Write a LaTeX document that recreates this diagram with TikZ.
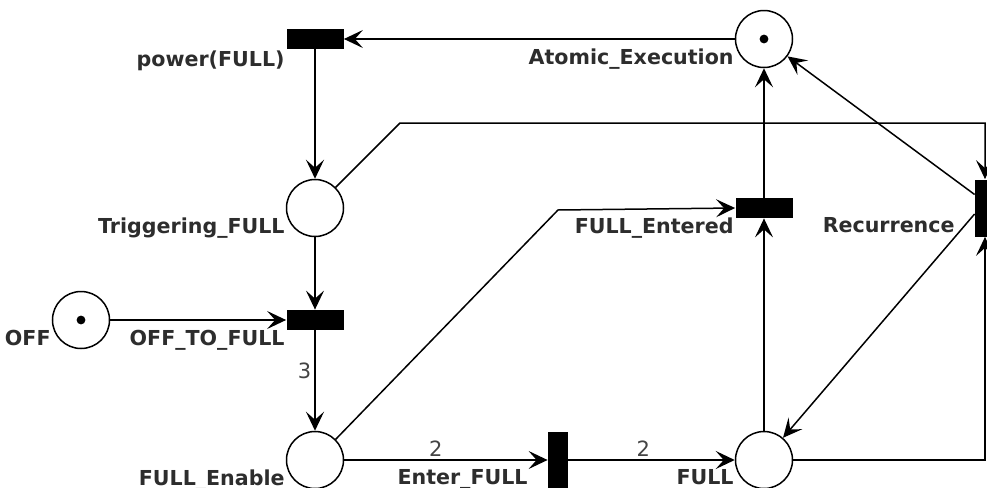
\documentclass[tikz,border=0pt]{standalone}
\usepackage{fontspec}
\setmainfont{DejaVu Sans}
\usetikzlibrary{arrows.meta, positioning, calc}
\definecolor{pnlabel}{RGB}{45, 45, 45}
\definecolor{pnweight}{RGB}{68, 68, 68}

\begin{document}
\begin{tikzpicture}[
    node distance=50pt, on grid,
    place/.style={draw, circle, minimum size=28.5pt, inner sep=0pt, line width=0.75pt},
    marked/.style={place, path picture={\fill (path picture bounding box.center) circle (2.2pt);}},
    htrans/.style={fill=black, minimum width=28.5pt, minimum height=10pt, inner sep=0pt},
    vtrans/.style={fill=black, minimum width=10pt, minimum height=28.5pt, inner sep=0pt},
    flow/.style={line width=0.75pt, -{Stealth[length=9.5pt, width=9pt, inset=4pt]}},
    lbl/.style={anchor=north east, inner sep=0pt, font=\fontsize{10.3}{12}\selectfont\bfseries, text=pnlabel},
    wlabel/.style={font=\fontsize{10.5}{12}\selectfont, text=pnweight, inner sep=1.5pt},
]

% Canvas
\path[use as bounding box, fill=white] (0,0) rectangle (493.5pt,-244pt);
\clip (0,0) rectangle (493.5pt,-244pt);

% Places and transitions
\node[marked] (atomic) at (382pt,-19.5pt) {};
\node[htrans, left=224.5pt of atomic] (power) {};
\node[place, below=84.5pt of power] (trig) {};
\node[htrans, below=56pt of trig] (offfull) {};
\node[marked, left=117pt of offfull] (off) {};
\node[place, below=70pt of offfull] (enable) {};
\node[vtrans, right=121.5pt of enable] (enter) {};
\node[place, right=103pt of enter] (full) {};
\node[htrans, above=126pt of full] (entered) {};
\node[vtrans, right=110.5pt of entered] (rec) {};

% Labels
\node[lbl] (atomic-l) at ($(atomic)+(-15pt,-4.5pt)$) {Atomic\_Execution};
\node[lbl] (power-l) at ($(power)+(-15pt,-5.5pt)$) {power(FULL)};
\node[lbl] (trig-l) at ($(trig)+(-15pt,-4.5pt)$) {Triggering\_FULL};
\node[lbl] (off-l) at ($(off)+(-15pt,-5pt)$) {OFF};
\node[lbl] (offfull-l) at ($(offfull)+(-15pt,-5pt)$) {OFF\_TO\_FULL};
\node[lbl] (enable-l) at ($(enable)+(-15pt,-4.5pt)$) {FULL\_Enable};
\node[lbl] (enter-l) at ($(enter)+(-15pt,-4.5pt)$) {Enter\_FULL};
\node[lbl] (full-l) at ($(full)+(-15pt,-4.5pt)$) {FULL};
\node[lbl] (entered-l) at ($(entered)+(-15pt,-4.5pt)$) {FULL\_Entered};
\node[lbl] (rec-l) at ($(rec)+(-15pt,-4.5pt)$) {Recurrence};

% Bends
\coordinate (trigbend) at (200pt,-61.5pt);
\coordinate (enablebend) at ($(enter |- entered)+(0,-1pt)$);

% Arcs
\draw[flow] (atomic) -- (power);
\draw[flow] (power) -- (trig);
\draw[flow] (trig) -- (offfull);
\draw[flow] (off) -- (offfull);
\draw[flow] (offfull) -- node[wlabel, left, pos=0.4] {3} (enable);
\draw[flow] (enable) -- node[wlabel, above, pos=0.45] {2} (enter);
\draw[flow] (enter) -- node[wlabel, above, pos=0.45] {2} (full);
\draw[flow] (full) -- (entered);
\draw[flow] (entered) -- (atomic);
\draw[flow] (trig.45) -- (trigbend) -- (trigbend -| rec) -- (rec.north);
\draw[flow] (enable.45) -- (enablebend) -- (entered.west);
\draw[flow] (full) -- (full -| rec) -- (rec.south);
\draw[flow] ($(rec.west)+(0,6.75pt)$) -- (atomic);
\draw[flow] ($(rec.west)+(0,-3pt)$) -- (full);

\end{tikzpicture}
\end{document}
